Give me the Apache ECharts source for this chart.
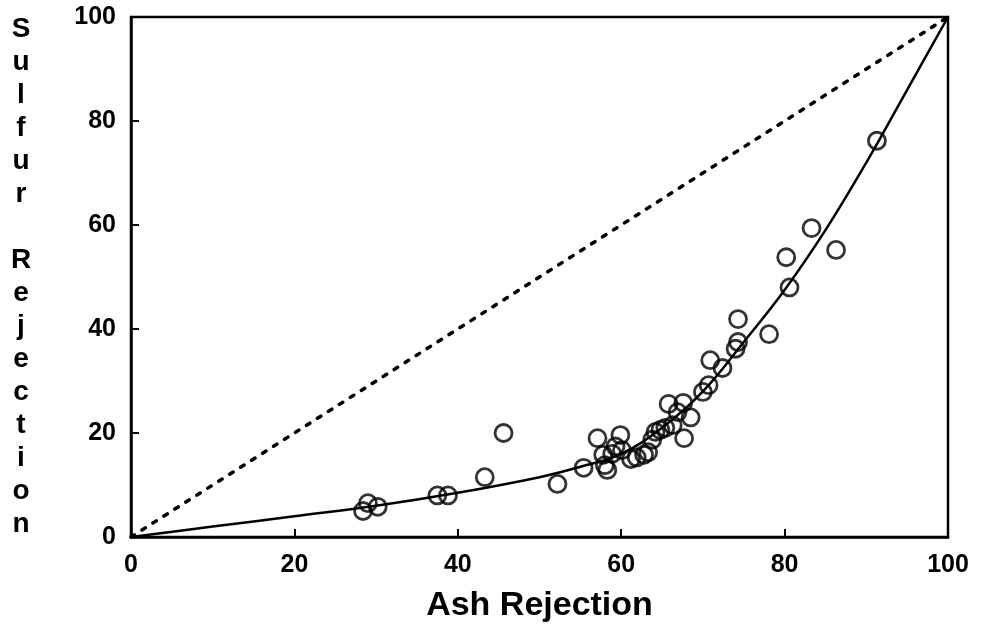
<!DOCTYPE html>
<html>
<head>
<meta charset="utf-8">
<style>
  html, body { margin: 0; padding: 0; background: #fff; }
  #chart { width: 982px; height: 633px; }
</style>
<script src="https://cdn.jsdelivr.net/npm/echarts@6/dist/echarts.min.js"></script>
</head>
<body>
<div id="chart"></div>
<script>
// Observed samples: ash rejection (%) vs sulfur rejection (%)
const ashRejection = [
  28.4, 29.0, 30.2, 37.5, 38.8, 43.3, 45.6, 52.2, 55.4, 57.1,
  57.8, 58.0, 58.3, 58.9, 59.3, 59.9, 60.1, 61.2, 61.9, 62.8,
  63.3, 63.8, 64.2, 64.8, 65.4, 65.8, 66.3, 66.9, 67.6, 67.7,
  68.5, 70.0, 70.7, 70.9, 72.4, 74.0, 74.3, 74.3, 78.1, 80.2,
  80.6, 83.3, 86.3, 91.3
];
const sulfurRejection = [
  5.0, 6.5, 5.8, 8.0, 8.0, 11.5, 20.0, 10.2, 13.3, 19.0,
  15.8, 13.8, 12.9, 16.0, 17.4, 19.6, 16.7, 15.0, 15.3, 15.8,
  16.3, 18.7, 20.2, 20.6, 21.0, 25.6, 21.5, 24.0, 25.8, 19.0,
  23.0, 27.9, 29.2, 34.0, 32.5, 36.2, 37.5, 41.9, 39.0, 53.8,
  48.0, 59.4, 55.2, 76.2
];

// Fitted trend curve
const fitAsh    = [0, 10, 20, 30, 40, 50, 55, 60, 65, 70, 75, 80, 85, 90, 95, 100];
const fitSulfur = [0, 2, 4, 6, 8.5, 11.5, 13.5, 16, 21, 28, 37.5, 47.5, 59, 72, 86, 100];

// Equal-rejection reference line
const diagAsh    = [0, 100];
const diagSulfur = [0, 100];

const axisTicks = [0, 20, 40, 60, 80, 100];

const yTitle = 'Sulfur Rejection';
const xTitle = 'Ash Rejection';

const zip = (a, b) => a.map((v, i) => [v, b[i]]);

const FONT = '"Liberation Sans", Arial, sans-serif';

const chart = echarts.init(document.getElementById('chart'), null, { renderer: 'canvas' });

const axisCommon = {
  type: 'value',
  min: axisTicks[0],
  max: axisTicks[axisTicks.length - 1],
  interval: axisTicks[1] - axisTicks[0],
  splitLine: { show: false },
  axisLine: { show: true, lineStyle: { color: '#000', width: 2.5 } },
  axisTick: { show: true, inside: true, length: 8, lineStyle: { color: '#000', width: 2 } },
  axisLabel: {
    color: '#000', fontFamily: FONT, fontWeight: 'bold', fontSize: 25
  }
};

chart.setOption({
  animation: false,
  backgroundColor: '#fff',
  grid: {
    left: 131, right: 34, top: 17, bottom: 96,
    outerBoundsMode: 'none',
    show: true, borderColor: '#000', borderWidth: 2.5
  },
  xAxis: Object.assign({}, axisCommon, {
    name: xTitle,
    nameLocation: 'middle',
    nameGap: 52,
    nameTextStyle: { color: '#000', fontFamily: FONT, fontWeight: 'bold', fontSize: 34 },
    axisLabel: Object.assign({}, axisCommon.axisLabel, { margin: 16 })
  }),
  yAxis: Object.assign({}, axisCommon, {
    name: yTitle.split('').join('\n'),
    nameLocation: 'middle',
    nameGap: 110,
    nameRotate: 0,
    nameTextStyle: {
      color: '#000', fontFamily: FONT, fontWeight: 'bold', fontSize: 28,
      lineHeight: 33, align: 'center', verticalAlign: 'middle',
      padding: [10, 0, 0, 0]
    },
    axisLabel: Object.assign({}, axisCommon.axisLabel, { margin: 15 })
  }),
  series: [
    {
      name: 'Equal rejection',
      type: 'line',
      data: zip(diagAsh, diagSulfur),
      symbol: 'none',
      lineStyle: { color: '#000', width: 3.5, type: [4, 9], cap: 'round' },
      z: 2
    },
    {
      name: 'Fit',
      type: 'line',
      data: zip(fitAsh, fitSulfur),
      symbol: 'none',
      smooth: 0.4,
      lineStyle: { color: '#000', width: 2.5 },
      z: 3
    },
    {
      name: 'Samples',
      type: 'scatter',
      data: zip(ashRejection, sulfurRejection),
      symbol: 'circle',
      symbolSize: 17,
      itemStyle: { color: 'rgba(255,255,255,0)', borderColor: '#000', borderWidth: 2.8 },
      z: 4
    }
  ]
});
</script>
</body>
</html>
